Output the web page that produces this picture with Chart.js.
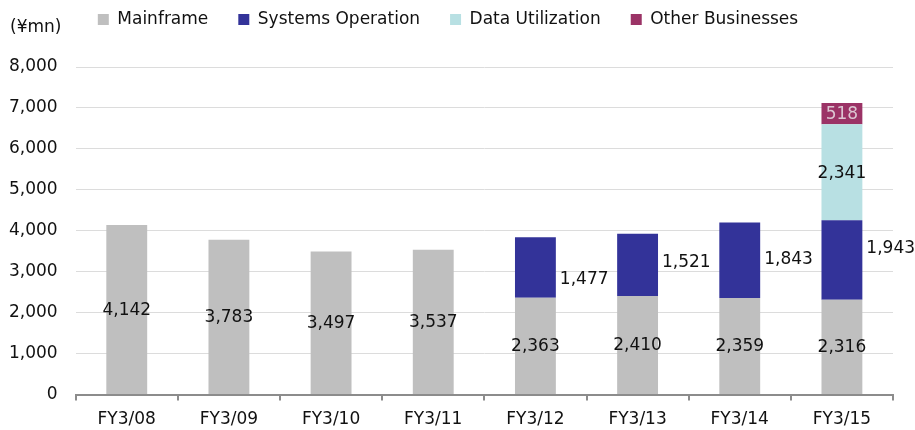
<!DOCTYPE html>
<html>
<head>
<meta charset="utf-8">
<script src="https://cdn.jsdelivr.net/npm/chart.js@4"></script>
<style>
    html, body {margin: 0; padding: 0; background: #ffffff;}
    #wrap {width: 915px; height: 430px;}
</style>
</head>
<body>
<div id="wrap"><canvas id="segmentChart" width="915" height="430"></canvas></div>
<script>
const categories = ['FY3/08', 'FY3/09', 'FY3/10', 'FY3/11', 'FY3/12', 'FY3/13', 'FY3/14', 'FY3/15'];
const mainframe = [4142, 3783, 3497, 3537, 2363, 2410, 2359, 2316];
const systemsOperation = [null, null, null, null, 1477, 1521, 1843, 1943];
const dataUtilization = [null, null, null, null, null, null, null, 2341];
const otherBusinesses = [null, null, null, null, null, null, null, 518];

// small vertical nudges (px) of the outside labels, as placed in the original
const systemsLabelNudge = [0, 0, 0, 0, 11, -3, -2, -12];

const FONT = "'DejaVu Sans', sans-serif";
const fmt = new Intl.NumberFormat('en-US');

// draws value labels and the unit label
const labelPlugin = {
    id: 'valueLabels',
    afterLayout(chart) {
        // legend sits higher than Chart.js puts it
        const lg = chart.legend;
        lg.top -= 29;
        lg.bottom -= 29;
        lg.left += 6;
        lg.right += 6;
    },
    afterDatasetsDraw(chart) {
        const ctx = chart.ctx;
        ctx.save();
        ctx.font = '17px ' + FONT;
        ctx.textBaseline = 'middle';
        chart.data.datasets.forEach((ds, i) => {
            const meta = chart.getDatasetMeta(i);
            meta.data.forEach((bar, j) => {
                const v = ds.data[j];
                if (v === null || v === undefined) return;
                const yMid = (bar.y + bar.base) / 2;
                if (ds.labelSide === 'right') {
                    ctx.textAlign = 'left';
                    ctx.fillStyle = '#111111';
                    ctx.fillText(fmt.format(v), bar.x + bar.width / 2 + 4, yMid + 1 + (ds.nudge[j] || 0));
                } else {
                    ctx.textAlign = 'center';
                    ctx.fillStyle = ds.labelColor || '#111111';
                    ctx.fillText(fmt.format(v), bar.x, yMid + 1);
                }
            });
        });
        ctx.textAlign = 'left';
        ctx.fillStyle = '#111111';
        ctx.fillText('(¥mn)', 10, 28);
        ctx.restore();
    }
};

new Chart(document.getElementById('segmentChart'), {
    type: 'bar',
    data: {
        labels: categories,
        datasets: [
            {label: 'Mainframe', data: mainframe, backgroundColor: '#bfbfbf', labelColor: '#111111'},
            {label: 'Systems Operation', data: systemsOperation, backgroundColor: '#333399', labelSide: 'right', nudge: systemsLabelNudge},
            {label: 'Data Utilization', data: dataUtilization, backgroundColor: '#b8e0e3', labelColor: '#111111'},
            {label: 'Other Businesses', data: otherBusinesses, backgroundColor: '#9b3366', labelColor: '#dcc6d2'}
        ]
    },
    options: {
        responsive: false,
        animation: false,
        layout: {padding: {left: -9, right: 22, top: 10, bottom: -9}},
        datasets: {bar: {categoryPercentage: 1, barPercentage: 0.4}},
        plugins: {
            legend: {
                position: 'top',
                labels: {
                    boxWidth: 11,
                    boxHeight: 11,
                    padding: 30,
                    color: '#111111',
                    font: {family: FONT, size: 17}
                }
            },
            tooltip: {enabled: false}
        },
        scales: {
            x: {
                stacked: true,
                border: {color: '#8c8c8c', width: 2},
                grid: {drawOnChartArea: false, tickLength: 6, color: '#8c8c8c', lineWidth: 2},
                ticks: {color: '#111111', font: {family: FONT, size: 17}, padding: 9}
            },
            y: {
                stacked: true,
                min: 0,
                max: 8000,
                border: {display: false},
                grid: {color: '#dcdcdc', drawTicks: false},
                ticks: {
                    stepSize: 1000,
                    color: '#111111',
                    padding: 18,
                    font: {family: FONT, size: 17},
                    callback: v => fmt.format(v)
                }
            }
        }
    },
    plugins: [labelPlugin]
});
</script>
</body>
</html>
